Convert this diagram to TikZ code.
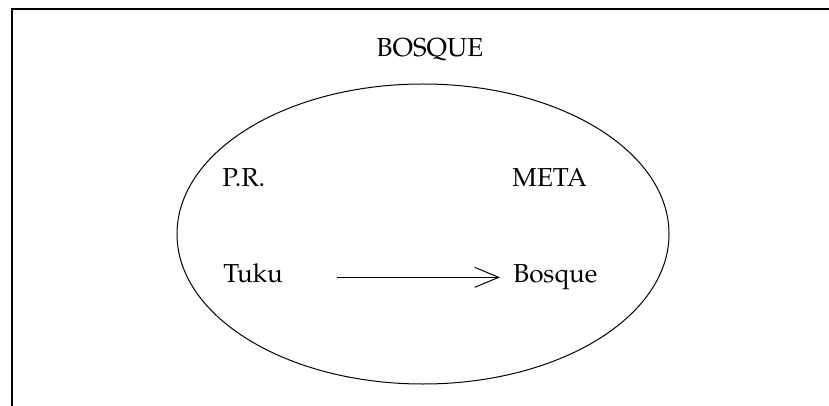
\documentclass[tikz,border=0pt]{standalone}
\usepackage[T1]{fontenc}
\usepackage{mathpazo}
\usetikzlibrary{arrows.meta,shapes.geometric}
\begin{document}
\begin{tikzpicture}[x=0.5pt,y=-0.5pt,
  lbl/.style={inner sep=0pt,font=\fontsize{13}{15}\selectfont},
  framel/.style={line width=0.8pt},
  arr/.style={line width=0.5pt,-{Straight Barb[length=12pt,width=10pt,line width=0.5pt]}}]
\useasboundingbox (0,0) rectangle (829,406);
\draw[framel] (12,406) -- (12,9) -- (829,9);
\node[lbl,anchor=base] (title) at (430,57) {BOSQUE};
\node[draw,ellipse,line width=0.5pt,minimum width=246pt,minimum height=150pt,inner sep=0pt] (ell) at (423,234) {};
\node[lbl,anchor=base west] (pr) at (222,187) {P.R.};
\node[lbl,anchor=base west] (meta) at (512,187) {META};
\node[lbl,anchor=base west] (tuku) at (223,282) {Tuku};
\node[lbl,anchor=base west] (bosque) at (513,282) {Bosque};
\draw[arr,shorten <=27pt,shorten >=6.5pt] (tuku.mid east) -- (bosque.mid west);
\end{tikzpicture}
\end{document}
